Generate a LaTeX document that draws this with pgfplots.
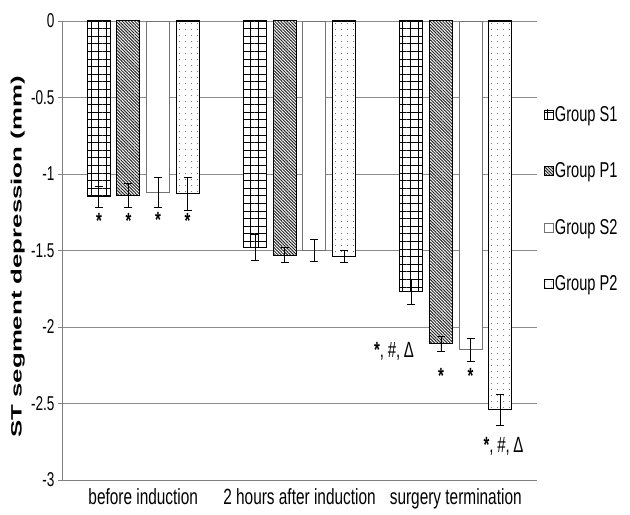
\documentclass[border=0pt]{standalone}
\usepackage{fontspec}
\setmainfont{Liberation Sans}[FakeStretch=0.68]
\newfontfamily\xlabfont{Liberation Sans}[FakeStretch=0.70]
\newfontfamily\widebold{Liberation Sans Bold}[FakeStretch=1.72]
\usepackage{pgfplots}
\pgfplotsset{compat=1.18}
\usetikzlibrary{patterns.meta}
\begin{document}
\begin{tikzpicture}
\begin{axis}[name=ax, scale only axis, width=475bp, height=459bp,
  xmin=-0.52, xmax=2.52, ymin=-3, ymax=0,
  ybar, bar width=23bp,
  ytick={-3,-2.5,-2,-1.5,-1,-0.5,0},
  xtick={0,1,2},
  xticklabels={before induction, 2 hours after induction, surgery termination},
  /pgf/number format/assume math mode=true,
  yticklabel style={font=\fontsize{20bp}{24bp}\selectfont},
  xticklabel style={font=\xlabfont\fontsize{22bp}{26bp}\selectfont, yshift=-1bp},
  axis lines*=left,
  ymajorgrids, grid style={black!45, line width=0.9bp},
  axis line style={black!50, line width=0.9bp},
  x tick style={draw=none}, y tick style={black!50, line width=0.9bp},
  tick align=outside, major tick length=4bp,
  ylabel={\widebold ST segment depression (mm)},
  ylabel style={font=\fontsize{15bp}{18bp}\selectfont, at={(axis description cs:-0.093,0.486)}, anchor=center},
  legend style={at={(1.014,0.818)}, anchor=north west, draw=none, fill=none,
    font=\fontsize{21.5bp}{25bp}\selectfont, row sep=37bp, inner sep=0pt,
    nodes={inner sep=1.5bp}},
  legend cell align=left,
  legend image code/.code={\draw[#1, line width=0.6bp] (0bp,-4.5bp) rectangle (9bp,4.5bp);},
  error bars/y dir=both, error bars/y explicit,
  error bars/error bar style={black, line width=0.8bp},
  error bars/error mark options={rotate=90, mark size=4bp, black, line width=0.8bp},
]
% Group S1
\addplot[bar shift=-44.5bp, draw=black, line width=1bp, fill=white,
  postaction={pattern={Hatch[distance=7.6bp, line width=0.9bp]}, pattern color=black}]
  coordinates {(0,-1.15) +- (0,0.07) (1,-1.48) +- (0,0.085) (2,-1.77) +- (0,0.08)};
% Group P1
\addplot[bar shift=-14.8bp, draw=black, line width=1bp, fill=white,
  postaction={pattern={Lines[angle=-45, distance=2.2bp, line width=1bp]}, pattern color=black!85}]
  coordinates {(0,-1.14) +- (0,0.08) (1,-1.53) +- (0,0.05) (2,-2.11) +- (0,0.05)};
% Group S2
\addplot[bar shift=14.8bp, draw=black!55, line width=0.9bp, fill=white]
  coordinates {(0,-1.12) +- (0,0.10) (1,-1.50) +- (0,0.07) (2,-2.15) +- (0,0.075)};
% Group P2
\addplot[bar shift=44.5bp, draw=black, line width=1.2bp, fill=white,
  postaction={pattern={Dots[distance=6bp, radius=0.5bp]}, pattern color=black!70}]
  coordinates {(0,-1.13) +- (0,0.11) (1,-1.54) +- (0,0.04) (2,-2.54) +- (0,0.10)};
\legend{Group S1, Group P1, Group S2, Group P2}
\begin{scope}[every node/.style={font=\fontsize{22bp}{26bp}\selectfont\bfseries, inner sep=0pt}]
\node at (axis cs:-0.283,-1.31) {*};
\node at (axis cs:-0.094,-1.31) {*};
\node at (axis cs:0.094,-1.30) {*};
\node at (axis cs:0.283,-1.31) {*};
\node at (axis cs:1.906,-2.32) {*};
\node at (axis cs:2.094,-2.32) {*};
\end{scope}
\begin{scope}[every node/.style={font=\fontsize{22bp}{26bp}\selectfont, inner sep=0pt}]
\node at (axis cs:1.605,-2.16) {{\bfseries *},\,\#,\,Δ};
\node at (axis cs:2.306,-2.78) {{\bfseries *},\,\#,\,Δ};
\end{scope}
\end{axis}
\path (ax.south west) +(-62bp,-35bp) (ax.north east) +(93bp,21bp);
\end{tikzpicture}
\end{document}
